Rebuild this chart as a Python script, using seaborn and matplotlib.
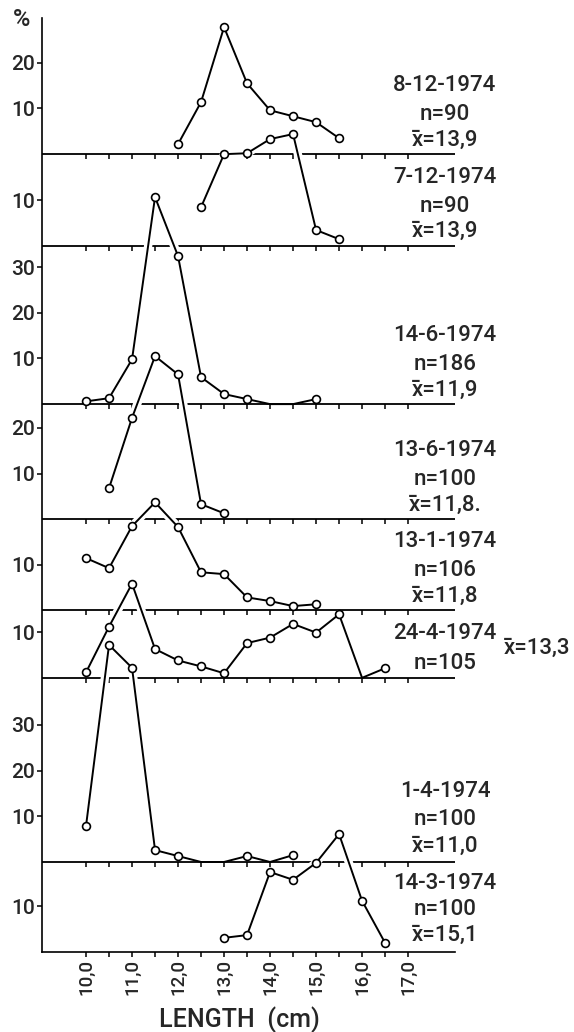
import numpy as np
import pandas as pd
import matplotlib
matplotlib.use("Agg")
import matplotlib.pyplot as plt
import seaborn as sns

# ---------------- data ----------------
dates = ["8-12-1974", "7-12-1974", "14-6-1974", "13-6-1974",
         "13-1-1974", "24-4-1974", "1-4-1974", "14-3-1974"]
n_labels = ["n=90", "n=90", "n=186", "n=100", "n=106", "n=105", "n=100", "n=100"]
mean_labels = ["x\u0304=13,9", "x\u0304=13,9", "x\u0304=11,9", "x\u0304=11,8.",
               "x\u0304=11,8", "x\u0304=13,3", "x\u0304=11,0", "x\u0304=15,1"]

len_0812 = [12.0, 12.5, 13.0, 13.5, 14.0, 14.5, 15.0, 15.5]
pct_0812 = [2.2, 11.4, 27.8, 15.5, 9.6, 8.3, 7.0, 3.5]

len_0712 = [12.5, 13.0, 13.5, 14.0, 14.5, 15.0, 15.5]
pct_0712 = [8.5, 20.1, 20.3, 23.4, 24.5, 3.5, 1.5]

len_1406 = [10.0, 10.5, 11.0, 11.5, 12.0, 12.5, 13.0, 13.5, 14.0, 14.5, 15.0]
pct_1406 = [0.6, 1.3, 9.8, 45.3, 32.4, 5.9, 2.2, 1.1, 0.0, 0.0, 1.1]

len_1306 = [10.5, 11.0, 11.5, 12.0, 12.5, 13.0]
pct_1306 = [6.8, 22.2, 35.7, 31.7, 3.3, 1.3]

len_1301 = [10.0, 10.5, 11.0, 11.5, 12.0, 12.5, 13.0, 13.5, 14.0, 14.5, 15.0]
pct_1301 = [11.4, 9.2, 18.4, 23.6, 18.2, 8.3, 7.9, 2.8, 2.0, 0.9, 1.3]

len_2404 = [10.0, 10.5, 11.0, 11.5, 12.0, 12.5, 13.0, 13.5, 14.0, 14.5, 15.0, 15.5, 16.0, 16.5]
pct_2404 = [1.2, 11.2, 20.6, 6.3, 3.8, 2.5, 1.0, 7.6, 8.8, 11.8, 9.9, 13.9, 0.0, 2.1]

len_0104 = [10.0, 10.5, 11.0, 11.5, 12.0, 12.5, 13.0, 13.5, 14.0, 14.5]
pct_0104 = [7.9, 47.5, 42.5, 2.6, 1.3, 0.0, 0.0, 1.3, 0.0, 1.5]

len_1403 = [13.0, 13.5, 14.0, 14.5, 15.0, 15.5, 16.0, 16.5]
pct_1403 = [3.1, 3.7, 17.5, 15.8, 19.5, 25.8, 11.2, 2.0]

lengths = [len_0812, len_0712, len_1406, len_1306, len_1301, len_2404, len_0104, len_1403]
percents = [pct_0812, pct_0712, pct_1406, pct_1306, pct_1301, pct_2404, pct_0104, pct_1403]

panel_yticks = [[10, 20], [10], [10, 20, 30], [10, 20], [10], [10], [10, 20, 30], [10]]
xtick_values = [10, 11, 12, 13, 14, 15, 16, 17]
xtick_labels = ["10,0", "11,0", "12,0", "13,0", "14,0", "15,0", "16,0", "17,0"]

# ---------------- layout ----------------
panel_base = [174.6, 154.5, 119.9, 94.7, 74.8, 60.0, 19.7, 0.0]
# (date_dy, n_dy, mean_dy, date_x, mean_x, mean_ha)
label_layout = [(15.1, 8.6, 3.1, 17.8, 17.8, "center")] * 5 + \
               [(9.8, 3.2, 6.5, 17.8, 20.52, "right")] + \
               [(15.4, 9.2, 3.4, 17.8, 17.8, "center"),
                (14.9, 9.2, 3.7, 17.8, 17.8, "center")]

sns.set_theme(style="ticks")
plt.rcParams["font.family"] = ["Roboto", "DejaVu Sans"]
plt.rcParams["axes.linewidth"] = 1.2

fig = plt.figure(figsize=(5.74, 10.32), dpi=100)
ax = fig.add_axes([42 / 574, 80 / 1032, 413 / 574, 934 / 1032])
ax.set_xlim(9.043, 18.02)
ax.set_ylim(0, 204.4)

half_ticks = np.arange(10.0, 17.01, 0.5)

for i, (xs, ps) in enumerate(zip(lengths, percents)):
    base = panel_base[i]
    df = pd.DataFrame({"length": xs, "y": np.array(ps) + base, "pct": ps})
    zb = 1.5 + i * 0.01
    # baseline of this panel with downward ticks
    if i < len(lengths) - 1:
        ax.axhline(base, color="black", lw=1.3, zorder=zb + 0.005)
        ax.plot(half_ticks, np.full(half_ticks.shape, base), ls="none", marker=3,
                ms=3.5, mew=1.1, color="black", zorder=zb + 0.005)
    # white halo to interrupt baselines of panels above
    sns.lineplot(data=df, x="length", y="y", ax=ax, color="white", lw=6,
                 zorder=zb, sort=False, estimator=None)
    sns.lineplot(data=df, x="length", y="y", ax=ax, color="black", lw=1.4,
                 zorder=3, sort=False, estimator=None)
    pts = df[df["pct"] > 0]
    sns.scatterplot(data=pts, x="length", y="y", ax=ax, marker="o", s=32,
                    facecolor="white", edgecolor="black", linewidth=1.2,
                    zorder=4, legend=False)

    ddy, ndy, mdy, dx, mx, mha = label_layout[i]
    ax.text(dx, base + ddy, dates[i], ha="center", va="center", fontsize=16,
            fontweight="medium", clip_on=False)
    ax.text(dx, base + ndy, n_labels[i], ha="center", va="center", fontsize=16,
            fontweight="medium", clip_on=False)
    ax.text(mx, base + mdy, mean_labels[i], ha=mha, va="center", fontsize=16,
            fontweight="medium", clip_on=False)

# y ticks
yt, ytl = [], []
for base, tks in zip(panel_base, panel_yticks):
    for t in tks:
        yt.append(base + t)
        ytl.append(str(t))
ax.set_yticks(yt)
ax.set_yticklabels(ytl, fontsize=15, fontweight="medium")

ax.set_xticks(xtick_values)
ax.set_xticklabels(xtick_labels, rotation=90, fontsize=13.5, fontweight="medium")
ax.set_xticks(half_ticks, minor=True)
ax.tick_params(axis="both", which="both", direction="out", length=3.5, width=1.1,
               color="black", pad=1.5)
ax.tick_params(axis="x", which="minor", labelbottom=False)
ax.set_xlabel("LENGTH  (cm)", fontsize=18, fontweight="medium")
ax.xaxis.set_label_coords(0.479, -0.058)
ax.set_ylabel("")
sns.despine(ax=ax, top=True, right=True)
ax.spines["left"].set_color("black")
ax.spines["bottom"].set_color("black")

fig.text(22 / 574, 1 - 20 / 1032, "%", ha="center", va="center", fontsize=17,
         fontweight="medium")

fig.savefig("out.png", dpi=100, facecolor="white")
